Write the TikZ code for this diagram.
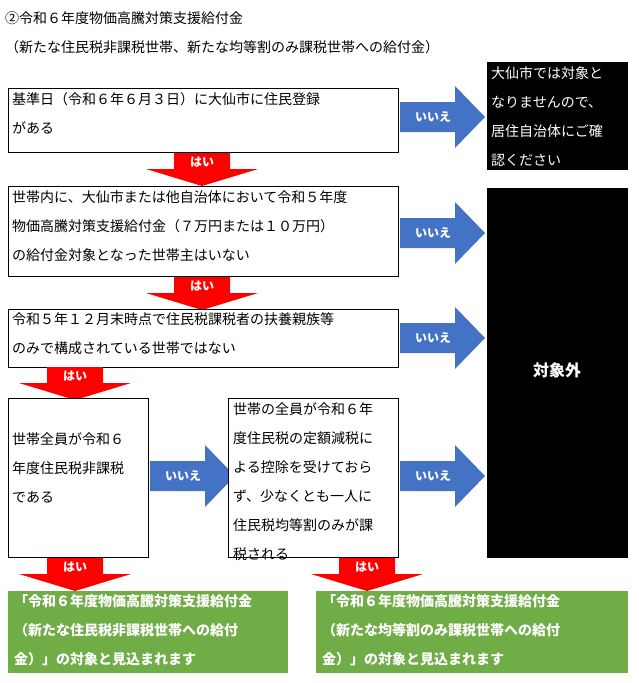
\documentclass[tikz,border=0pt]{standalone}
\usepackage{fontspec}
\setmainfont{Noto Sans CJK JP}
\definecolor{arrblue}{RGB}{68,114,196}
\definecolor{boxgreen}{RGB}{112,173,71}
\begin{document}
\begin{tikzpicture}[x=1pt,y=-1pt,
  box/.style={draw=black,line width=0.8pt,fill=white,inner sep=0pt},
  txt/.style={anchor=north west,align=left,inner sep=0pt,font=\fontsize{14}{29}\selectfont},
  wtxt/.style={txt,text=white},
  btxt/.style={wtxt,font=\fontsize{14}{29}\selectfont\bfseries},
  atxt/.style={text=white,font=\fontsize{12}{14}\selectfont\bfseries,inner sep=0pt},
  blk/.style={fill=black},
  grn/.style={fill=boxgreen},
]
\useasboundingbox (0,0) rectangle (638,683);
\newcommand\bluearr[3]{% x0, yc, name
  \fill[arrblue] (#1,#2-15) -- (#1+55,#2-15) -- (#1+55,#2-31) -- (#1+85,#2) -- (#1+55,#2+31) -- (#1+55,#2+15) -- (#1,#2+15) -- cycle;
  \node[atxt] (#3) at (#1+33,#2) {いいえ};}
\newcommand\redarr[3]{% cx, ytop, name
  \fill[red] (#1-28,#2) -- (#1+28,#2) -- (#1+28,#2+16) -- (#1+56,#2+16) -- (#1,#2+33) -- (#1-56,#2+16) -- (#1-28,#2+16) -- cycle;
  \node[atxt] (#3) at (#1,#2+9) {はい};}

\node[anchor=west,inner sep=0pt,font=\fontsize{14}{16}\selectfont] (title) at (5,18) {②令和６年度物価高騰対策支援給付金};
\node[anchor=west,inner sep=0pt,font=\fontsize{14}{16}\selectfont] (sub) at (5,47) {（新たな住民税非課税世帯、新たな均等割のみ課税世帯への給付金）};

\draw[box] (8,88) rectangle (398,152);
\node[txt] (t1) at (12,92) {基準日（令和６年６月３日）に大仙市に住民登録\\がある};
\bluearr{400}{117}{a1}
\fill[blk] (487,62) rectangle (628,170);
\node[wtxt] (n1) at (491,66) {大仙市では対象と\\なりませんので、\\居住自治体にご確\\認ください};
\redarr{202}{153}{r1}

\draw[box] (8,186) rectangle (398,276);
\node[txt] (t2) at (12,190) {世帯内に、大仙市または他自治体において令和５年度\\物価高騰対策支援給付金（７万円または１０万円）\\の給付金対象となった世帯主はいない};
\bluearr{400}{233}{a2}
\fill[blk] (487,188) rectangle (628,558);
\node[text=white,font=\fontsize{16}{18}\selectfont\bfseries] (out) at (557,370) {対象外};
\redarr{202}{277}{r2}

\draw[box] (8,309) rectangle (398,367);
\node[txt] (t3) at (12,312) {令和５年１２月末時点で住民税課税者の扶養親族等\\のみで構成されている世帯ではない};
\bluearr{400}{338}{a3}
\redarr{75}{367}{r3}

\draw[box] (8,398) rectangle (148,557);
\node[txt] (t4) at (12,432) {世帯全員が令和６\\年度住民税非課税\\である};
\bluearr{150}{476}{a4}
\draw[box] (228,398) rectangle (398,557);
\node[txt] (t5) at (233,402) {世帯の全員が令和６年\\度住民税の定額減税に\\よる控除を受けておら\\ず、少なくとも一人に\\住民税均等割のみが課\\税される};
\bluearr{400}{476}{a5}
\redarr{75}{558}{r4}
\redarr{367}{558}{r5}

\fill[grn] (8,591) rectangle (288,673);
\node[btxt] (g1) at (14,594) {「令和６年度物価高騰対策支援給付金\\（新たな住民税非課税世帯への給付\\金）」の対象と見込まれます};
\fill[grn] (316,591) rectangle (628,673);
\node[btxt] (g2) at (322,594) {「令和６年度物価高騰対策支援給付金\\（新たな均等割のみ課税世帯への給付\\金）」の対象と見込まれます};
\end{tikzpicture}
\end{document}
